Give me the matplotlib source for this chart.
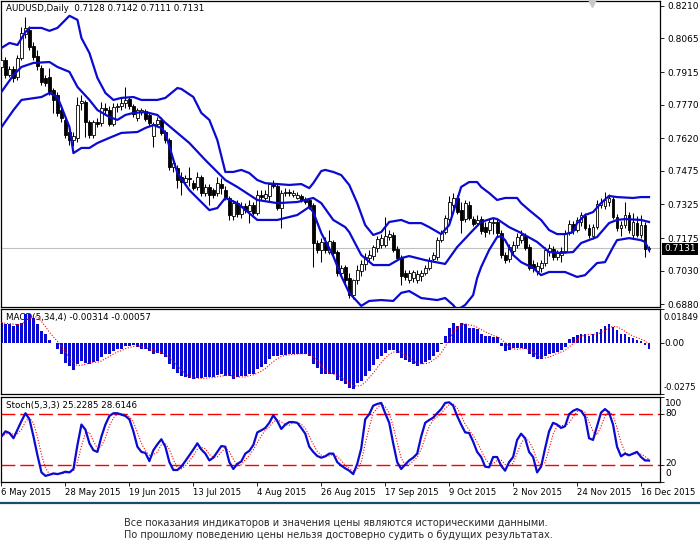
import numpy as np
import pandas as pd
import matplotlib
matplotlib.use('Agg')
import matplotlib.pyplot as plt
from matplotlib.patches import Rectangle
from matplotlib.lines import Line2D

# AUDUSD daily candles, 6 May 2015 .. 18 Dec 2015
open_ = [
    .7938, .7969, .7902, .7929, .7893, .7978, .8085, .8103, .8032, .7987,
    .7934, .7889, .7893, .7835, .7813, .7746, .7702, .7648, .7612, .7622,
    .7777, .7782, .7693, .7635, .7693, .7689, .7755, .7746, .7684, .7760,
    .7764, .7777, .7795, .7764, .7711, .7737, .7742, .7724, .7630, .7684,
    .7702, .7648, .7612, .7492, .7488, .7447, .7425, .7443, .7420, .7403,
    .7447, .7376, .7403, .7389, .7376, .7416, .7389, .7354, .7273, .7331,
    .7282, .7318, .7296, .7323, .7287, .7367, .7354, .7363, .7416, .7407,
    .7309, .7376, .7380, .7367, .7354, .7363, .7349, .7345, .7323, .7153,
    .7122, .7158, .7113, .7158, .7113, .7019, .7046, .6997, .6921, .6988,
    .7028, .7060, .7087, .7095, .7131, .7144, .7144, .7180, .7189, .7126,
    .7086, .7019, .6988, .6997, .6988, .7006, .7019, .7042, .7082, .7091,
    .7166, .7202, .7260, .7323, .7354, .7300, .7260, .7323, .7260, .7242,
    .7260, .7224, .7211, .7242, .7247, .7198, .7100, .7082, .7118, .7144,
    .7166, .7184, .7135, .7060, .7028, .7042, .7064, .7113, .7126, .7091,
    .7100, .7118, .7198, .7238, .7211, .7247, .7273, .7220, .7184, .7224,
    .7323, .7318, .7336, .7349, .7269, .7220, .7233, .7278, .7189, .7242,
    .7189, .7233, .7128]
high = [
    .7992, .7983, .7942, .7942, .7992, .8116, .8161, .8121, .8049, .8014,
    .7947, .7902, .7934, .7844, .7827, .7764, .7711, .7671, .7648, .7804,
    .7813, .7791, .7702, .7702, .7711, .7782, .7777, .7764, .7777, .7777,
    .7800, .7849, .7804, .7773, .7755, .7755, .7751, .7737, .7693, .7715,
    .7715, .7657, .7622, .7523, .7501, .7470, .7456, .7492, .7434, .7470,
    .7456, .7416, .7416, .7398, .7447, .7443, .7407, .7363, .7345, .7345,
    .7336, .7331, .7345, .7336, .7389, .7389, .7389, .7420, .7434, .7420,
    .7389, .7398, .7394, .7389, .7380, .7371, .7358, .7354, .7331, .7166,
    .7175, .7180, .7211, .7166, .7122, .7055, .7055, .7019, .6993, .7055,
    .7077, .7109, .7122, .7144, .7184, .7193, .7269, .7211, .7202, .7140,
    .7100, .7033, .7033, .7033, .7033, .7033, .7055, .7091, .7113, .7180,
    .7211, .7278, .7363, .7376, .7367, .7336, .7345, .7340, .7273, .7278,
    .7273, .7247, .7264, .7264, .7260, .7211, .7113, .7149, .7162, .7198,
    .7211, .7198, .7149, .7077, .7068, .7077, .7135, .7149, .7140, .7122,
    .7135, .7211, .7256, .7251, .7269, .7291, .7287, .7238, .7238, .7345,
    .7354, .7380, .7371, .7363, .7282, .7251, .7336, .7291, .7287, .7273,
    .7278, .7247, .7142]
low = [
    .7916, .7889, .7893, .7871, .7880, .7969, .8067, .8014, .7969, .7925,
    .7858, .7853, .7813, .7733, .7720, .7693, .7622, .7590, .7586, .7603,
    .7746, .7626, .7622, .7622, .7671, .7675, .7724, .7675, .7675, .7737,
    .7746, .7755, .7751, .7715, .7697, .7724, .7697, .7675, .7581, .7675,
    .7635, .7599, .7479, .7470, .7398, .7367, .7412, .7407, .7389, .7389,
    .7363, .7363, .7323, .7354, .7363, .7371, .7345, .7256, .7256, .7269,
    .7264, .7287, .7242, .7278, .7278, .7345, .7345, .7336, .7398, .7300,
    .7220, .7363, .7363, .7358, .7349, .7336, .7327, .7305, .7046, .7109,
    .7068, .7109, .7104, .7100, .7006, .7010, .6975, .6908, .6903, .6970,
    .7006, .7033, .7068, .7077, .7113, .7131, .7135, .7166, .7113, .7077,
    .6966, .6988, .6975, .6979, .6975, .6984, .7010, .7033, .7073, .7077,
    .7158, .7193, .7247, .7309, .7282, .7198, .7247, .7256, .7229, .7233,
    .7193, .7180, .7193, .7193, .7184, .7086, .7064, .7068, .7104, .7131,
    .7153, .7122, .7033, .7024, .7010, .7024, .7051, .7095, .7077, .7077,
    .7068, .7109, .7189, .7193, .7202, .7229, .7211, .7175, .7171, .7215,
    .7309, .7305, .7318, .7260, .7207, .7184, .7220, .7198, .7175, .7180,
    .7175, .7091, .7111]
close = [
    .7969, .7902, .7929, .7889, .7978, .8090, .8112, .8027, .7983, .7942,
    .7871, .7867, .7827, .7791, .7733, .7711, .7635, .7612, .7630, .7769,
    .7786, .7693, .7635, .7693, .7684, .7755, .7746, .7684, .7760, .7764,
    .7777, .7791, .7764, .7728, .7746, .7746, .7706, .7689, .7684, .7702,
    .7644, .7612, .7492, .7510, .7434, .7425, .7443, .7438, .7398, .7447,
    .7376, .7403, .7367, .7367, .7420, .7398, .7354, .7278, .7331, .7282,
    .7318, .7300, .7323, .7287, .7367, .7358, .7371, .7416, .7407, .7309,
    .7376, .7380, .7376, .7376, .7367, .7345, .7336, .7314, .7153, .7122,
    .7158, .7122, .7162, .7109, .7019, .7042, .6988, .6921, .6988, .7033,
    .7060, .7091, .7100, .7135, .7171, .7175, .7184, .7193, .7122, .7086,
    .7006, .7002, .7019, .7024, .7015, .7019, .7042, .7077, .7100, .7166,
    .7198, .7264, .7336, .7354, .7291, .7256, .7331, .7264, .7238, .7256,
    .7207, .7202, .7247, .7247, .7198, .7100, .7077, .7135, .7144, .7180,
    .7189, .7131, .7042, .7042, .7051, .7064, .7122, .7131, .7091, .7109,
    .7118, .7198, .7238, .7211, .7256, .7278, .7220, .7189, .7224, .7327,
    .7331, .7345, .7354, .7269, .7220, .7233, .7278, .7211, .7247, .7189,
    .7233, .7127, .7131]

# Bollinger bands
upper_i = [0, 2, 4, 6, 7, 10, 12, 14, 16, 17, 19, 20, 22, 24, 26, 28, 30, 33, 35, 39,
           41, 44, 45, 48, 50, 52, 54, 56, 58, 60, 62, 64, 66, 69, 72, 75, 77, 78, 80, 81,
           83, 85, 87, 89, 91, 93, 95, 97, 100, 102, 105, 107, 110, 112, 114, 115, 117, 119, 120, 122,
           124, 126, 129, 130, 132, 135, 137, 139, 141, 143, 144, 146, 148, 150, 152, 154, 158, 160, 162]
upper_v = [.8023, .8045, .8036, .8094, .8112, .8112, .8099, .8112, .8148, .8166,
           .8148, .8067, .8000, .7889, .7822, .7791, .7800, .7804, .7791, .7791,
           .7800, .7844, .7840, .7804, .7733, .7702, .7612, .7470, .7470, .7479,
           .7465, .7434, .7420, .7416, .7412, .7416, .7398, .7420, .7474, .7479,
           .7470, .7456, .7412, .7331, .7233, .7189, .7202, .7247, .7256, .7242,
           .7242, .7224, .7193, .7233, .7345, .7403, .7425, .7425, .7403, .7376,
           .7345, .7354, .7354, .7331, .7300, .7256, .7211, .7193, .7193, .7202,
           .7242, .7278, .7291, .7331, .7363, .7358, .7354, .7358, .7358]
mid_i = [0, 3, 5, 8, 12, 14, 17, 19, 22, 24, 27, 29, 31, 33, 36, 39, 41, 44, 47, 51,
         56, 59, 64, 69, 74, 78, 80, 83, 86, 87, 90, 93, 97, 100, 102, 106, 111, 114, 118, 120,
         123, 124, 127, 130, 134, 137, 140, 143, 145, 149, 152, 154, 156, 160, 162]
mid_v = [.7827, .7902, .7938, .7956, .7960, .7938, .7916, .7849, .7791, .7746,
         .7715, .7702, .7724, .7733, .7737, .7724, .7689, .7644, .7599, .7523,
         .7434, .7403, .7345, .7331, .7336, .7354, .7331, .7256, .7224, .7202,
         .7100, .7055, .7055, .7086, .7095, .7077, .7060, .7135, .7211, .7247,
         .7264, .7260, .7224, .7198, .7158, .7113, .7109, .7113, .7153, .7180,
         .7242, .7256, .7260, .7256, .7247]
lower_i = [0, 3, 5, 10, 12, 14, 15, 17, 18, 20, 22, 24, 27, 30, 34, 36, 38, 40, 41, 44,
           47, 52, 54, 56, 59, 64, 69, 74, 77, 78, 80, 83, 85, 87, 90, 92, 95, 98, 100, 102,
           105, 109, 111, 113, 114, 116, 118, 119, 120, 122, 124, 125, 126, 128, 130, 133, 135, 137, 141, 144,
           146, 149, 151, 153, 154, 157, 160, 161, 162]
lower_v = [.7670, .7746, .7791, .7804, .7822, .7804, .7760, .7670, .7554, .7577,
           .7577, .7599, .7622, .7644, .7648, .7666, .7679, .7666, .7644, .7465,
           .7389, .7300, .7309, .7354, .7331, .7256, .7256, .7278, .7314, .7291,
           .7198, .7095, .7006, .6931, .6873, .6895, .6899, .6895, .6931, .6939,
           .6908, .6899, .6908, .6877, .6854, .6877, .6921, .6997, .7046, .7122,
           .7180, .7184, .7166, .7100, .7068, .7042, .7010, .7024, .7024, .7002,
           .7010, .7064, .7068, .7135, .7166, .7175, .7166, .7158, .7122]

# MACD(5,34,4) main line
macd = [
    0.01118, 0.01028, 0.01028, 0.00938, 0.01028, 0.01118, 0.01605, 0.01605, 0.01388, 0.01028,
    0.00667, 0.00487, 0.00162, 0.00036, -0.00325, -0.00595, -0.01046, -0.01226, -0.01442, -0.01136,
    -0.00956, -0.01046, -0.01136, -0.00992, -0.00956, -0.00775, -0.00595, -0.00559, -0.00415, -0.00325,
    -0.00325, -0.00144, -0.00144, -0.00108, -0.00198, -0.00325, -0.00325, -0.00415, -0.00559, -0.00505,
    -0.00595, -0.00775, -0.01100, -0.01406, -0.01587, -0.01767, -0.01857, -0.01893, -0.01947, -0.01893,
    -0.01893, -0.01857, -0.01857, -0.01857, -0.01713, -0.01677, -0.01767, -0.01767, -0.01947, -0.01821,
    -0.01767, -0.01767, -0.01677, -0.01641, -0.01406, -0.01316, -0.01136, -0.00865, -0.00685, -0.00685,
    -0.00631, -0.00631, -0.00595, -0.00559, -0.00559, -0.00559, -0.00595, -0.00685, -0.01136, -0.01370,
    -0.01677, -0.01677, -0.01641, -0.01677, -0.02001, -0.02037, -0.02218, -0.02450, -0.02488, -0.02128,
    -0.02073, -0.01767, -0.01496, -0.01172, -0.00865, -0.00685, -0.00505, -0.00379, -0.00379, -0.00505,
    -0.00811, -0.00920, -0.00992, -0.01136, -0.01226, -0.01100, -0.00992, -0.00920, -0.00685, -0.00451,
    -0.00054, 0.00397, 0.00847, 0.01118, 0.00938, 0.01118, 0.01028, 0.00847, 0.00811, 0.00757,
    0.00523, 0.00397, 0.00397, 0.00343, 0.00307, -0.00144, -0.00415, -0.00379, -0.00270, -0.00270,
    -0.00270, -0.00325, -0.00595, -0.00775, -0.00865, -0.00865, -0.00685, -0.00595, -0.00505, -0.00451,
    -0.00379, -0.00234, 0.00216, 0.00307, 0.00433, 0.00523, 0.00487, 0.00397, 0.00487, 0.00631,
    0.00757, 0.00938, 0.01028, 0.00883, 0.00703, 0.00487, 0.00487, 0.00307, 0.00270, 0.00162,
    0.00126, -0.00090, -0.00314]

# Stochastic %K(5,3,3)
stoch_k = [
    53.5, 59.6, 57.6, 51.5, 61.6, 71.7, 80.9, 73.7, 53.5, 31.4,
    11.3, 7.2, 8.5, 10.1, 9.3, 10.5, 12.1, 11.3, 15.3, 43.5,
    67.6, 61.6, 45.5, 37.4, 35.4, 53.5, 67.6, 77.7, 80.9, 80.9,
    79.3, 77.7, 73.7, 59.6, 41.5, 35.4, 34.2, 24.6, 37.4, 44.3,
    50.3, 41.5, 23.4, 14.1, 14.1, 18.1, 24.6, 31.4, 38.2, 45.5,
    38.2, 33.4, 25.4, 28.6, 35.4, 42.3, 41.5, 23.4, 15.3, 21.3,
    24.2, 33.4, 36.6, 43.5, 58.4, 60.8, 63.6, 69.6, 78.5, 71.7,
    62.4, 67.6, 70.5, 70.5, 69.6, 63.6, 56.8, 41.5, 35.4, 30.6,
    28.6, 30.2, 33.4, 33.4, 23.4, 19.3, 16.1, 13.3, 9.3, 21.3,
    39.5, 73.7, 79.7, 89.8, 91.8, 93.0, 80.9, 69.6, 45.5, 23.4,
    15.3, 20.5, 25.4, 28.6, 33.4, 53.5, 69.6, 72.9, 75.7, 80.9,
    85.8, 93.0, 93.8, 89.8, 77.7, 67.6, 58.4, 57.6, 47.5, 35.4,
    29.4, 18.1, 17.3, 29.4, 29.4, 19.3, 13.3, 23.4, 29.4, 49.5,
    56.8, 51.5, 35.4, 29.4, 11.3, 18.1, 39.5, 59.6, 69.6, 67.6,
    63.6, 65.6, 79.7, 83.7, 85.8, 83.7, 76.9, 51.5, 49.5, 65.6,
    81.7, 85.8, 81.7, 67.6, 41.5, 30.2, 33.4, 31.4, 33.4, 35.4,
    29.4, 25.4, 25.23]

date_pos = [0, 16, 32, 48, 64, 80, 96, 112, 128, 144, 160]
date_labels = ['6 May 2015', '28 May 2015', '19 Jun 2015', '13 Jul 2015', '4 Aug 2015',
               '26 Aug 2015', '17 Sep 2015', '9 Oct 2015', '2 Nov 2015', '24 Nov 2015',
               '16 Dec 2015']
price_ticks = [0.8210, 0.8065, 0.7915, 0.7770, 0.7620, 0.7475, 0.7325, 0.7175, 0.7030, 0.6880]
macd_ticks = [0.01849, 0.0, -0.0275]
macd_tick_labels = ['0.01849', '0.00', '-0.0275']
stoch_ticks = [100, 80, 20, 0]
last_price = 0.7131

BLUE = '#0a0ad0'
W, H = 700, 552

plt.rcParams['font.family'] = 'DejaVu Sans'
fig = plt.figure(figsize=(W / 100, H / 100), dpi=100)


def px_axes(x0, y0, x1, y1):
    return fig.add_axes([x0 / W, 1 - y1 / H, (x1 - x0) / W, (y1 - y0) / H])


ax = px_axes(0.5, 1, 660, 307)
am = px_axes(0.5, 309, 660, 394)
ast = px_axes(0.5, 397, 660, 482)

idx = np.arange(len(close))
o = np.array(open_)
c = np.array(close)
up = c >= o
body_lo = np.minimum(o, c)
body_h = np.maximum(np.abs(c - o), 0.00004)

# price panel
ax.axhline(last_price, color='#c0c0c0', lw=0.8, zorder=0)
ax.vlines(idx, low, high, color='black', lw=0.75, zorder=2)
ax.bar(idx, body_h, bottom=body_lo, width=0.72,
       color=np.where(up, 'white', 'black'), edgecolor='black', linewidth=0.6, zorder=3)
for bi, bv in [(upper_i, upper_v), (mid_i, mid_v), (lower_i, lower_v)]:
    ax.plot(bi, bv, color=BLUE, lw=1.6, zorder=4)
ax.set_ylim(0.6868, 0.8232)
ax.set_yticks(price_ticks)
ax.set_yticklabels(['%.4f' % t for t in price_ticks])
ax.text(0.009, 0.975, 'AUDUSD,Daily  0.7128 0.7142 0.7111 0.7131', transform=ax.transAxes,
        fontsize=6.3, va='center', ha='left')

# MACD panel
signal = pd.Series(macd).rolling(4, min_periods=1).mean()
am.bar(idx, macd, width=0.72, color=BLUE, zorder=2)
am.plot(idx, signal, color='red', lw=0.8, ls=(0, (1, 1.5)), zorder=3)
am.set_ylim(-0.0275, 0.01849)
am.set_yticks(macd_ticks)
am.set_yticklabels([])
am.text(0.009, 0.9, 'MACD(5,34,4) -0.00314 -0.00057', transform=am.transAxes,
        fontsize=6.3, va='center', ha='left', zorder=1)
# MT4 keeps the edge labels inside the window
for lab, ypx in zip(macd_tick_labels, [318, 344, 388]):
    fig.text(664 / W, 1 - ypx / H, lab, fontsize=6.1 if len(lab) > 6 else 6.5,
             va='center', ha='left')

# Stochastic panel
stoch_d = pd.Series(stoch_k).rolling(3, min_periods=1).mean()
ast.axhline(80, color='red', lw=1.0, ls=(0, (10, 3.5)), zorder=1)
ast.axhline(20, color='red', lw=1.0, ls=(0, (10, 3.5)), zorder=1)
ast.plot(idx, stoch_d, color='red', lw=0.8, ls=(0, (1, 1.5)), zorder=2)
ast.plot(idx, stoch_k, color=BLUE, lw=1.6, zorder=3)
ast.set_ylim(0, 100)
ast.set_yticks(stoch_ticks)
ast.set_yticklabels([])
for t, ypx in zip(stoch_ticks, [403, 414, 464, 474]):
    fig.text(665 / W, 1 - ypx / H, str(t), fontsize=6.5, va='center', ha='left')
ast.text(0.009, 0.9, 'Stoch(5,3,3) 25.2285 28.6146', transform=ast.transAxes,
         fontsize=6.3, va='center', ha='left')
ast.set_xticks(date_pos)
ast.set_xticklabels(date_labels, ha='left', fontsize=6.1)
ast.tick_params(axis='x', length=3, width=0.6, pad=1.5, direction='out')

for a in (ax, am, ast):
    a.set_xlim(-0.25, 164.75)
    a.yaxis.tick_right()
    a.tick_params(axis='y', length=3, width=0.6, pad=2, labelsize=6.5)
    for s in a.spines.values():
        s.set_linewidth(0.9)
        s.set_color('black')
for a in (ax, am):
    a.set_xticks([])

# current price tag on the right axis
fig.add_artist(Rectangle((661.5 / W, 1 - 254.5 / H), 36 / W, 12 / H, transform=fig.transFigure,
                         fc='black', ec='none', zorder=5))
fig.text(664 / W, 1 - 248.5 / H, '%.4f' % last_price, color='white', fontsize=6.5,
         va='center', ha='left', zorder=6)

# small grey shift marker at the top
fig.add_artist(Line2D([592 / W], [1 - 3 / H], marker='v', markersize=6, color='#c8c8c8',
                      transform=fig.transFigure))

# separator and footnote
fig.add_artist(Line2D([0, 1], [1 - 503 / H, 1 - 503 / H], color='#1d4d66', lw=1.6,
                      transform=fig.transFigure))
fig.text(124 / W, 1 - 522.5 / H,
         'Все показания индикаторов и значения цены являются историческими данными.',
         fontsize=7, color='#2b2b2b', va='center', ha='left')
fig.text(124 / W, 1 - 535.5 / H,
         'По прошлому поведению цены нельзя достоверно судить о будущих результатах.',
         fontsize=7, color='#2b2b2b', va='center', ha='left')

fig.savefig('out.png', dpi=100)
